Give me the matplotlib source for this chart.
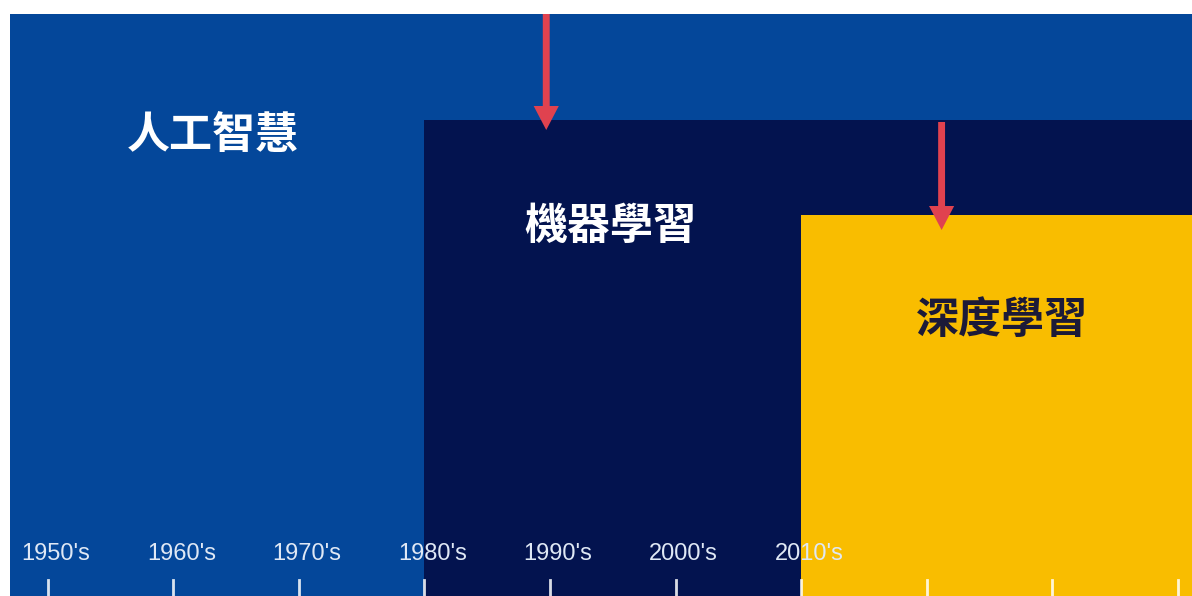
import matplotlib
matplotlib.use('Agg')
import matplotlib.pyplot as plt

plt.rcParams['font.family'] = ['Noto Sans CJK TC', 'DejaVu Sans']

# eras (nested blocks), start year and block top (px from bottom)
eras = ['人工智慧', '機器學習', '深度學習']
era_start = [1947, 1980, 2010]
era_top = [582, 476, 381]
era_colors = ['#04479a', '#03134f', '#f9bd00']
text_colors = ['white', 'white', '#1c1a38']
text_x = [1963.1, 1994.8, 2026.0]
text_y = [461, 370, 276]

# decade ticks and labels
decades = [1950, 1960, 1970, 1980, 1990, 2000, 2010, 2020, 2030, 2040]
decade_labels = ["1950's", "1960's", "1970's", "1980's", "1990's", "2000's", "2010's"]

# red arrows: x year, start y, end y
arrow_x = [1989.7, 2021.2]
arrow_y0 = [582, 474]
arrow_y1 = [466, 366]

x_left, x_right = 1946.18, 2041.15

fig = plt.figure(figsize=(11.92, 5.96), dpi=100)
ax = fig.add_axes([0, 0, 1, 1])
ax.set_xlim(x_left, x_right)
ax.set_ylim(0, 596)
ax.axis('off')

for i in range(len(eras)):
    ax.bar(era_start[i], era_top[i], width=x_right - era_start[i] + 1,
           align='edge', color=era_colors[i], linewidth=0, zorder=1)

for d in decades:
    ax.plot([d, d], [0, 16], color='white', lw=2, alpha=0.85, zorder=3)
for d, lab in zip(decades, decade_labels):
    ax.text(d + 0.65, 42, lab, color='#dfe8f5', fontsize=17,
            family=['Liberation Sans', 'DejaVu Sans'],
            ha='center', va='center', zorder=3)

for i in range(len(eras)):
    ax.text(text_x[i], text_y[i], eras[i], color=text_colors[i], fontsize=31,
            fontweight='bold', ha='center', va='center', zorder=4)

# vertical arrows: width in years (x), length in px (y)
for x, y0, y1 in zip(arrow_x, arrow_y0, arrow_y1):
    ax.arrow(x, y0, 0, y1 - y0, width=0.55, head_width=2.0, head_length=24,
             length_includes_head=True, color='#e0424f', linewidth=0, zorder=5)

fig.savefig('out.png', dpi=100, facecolor='white')
